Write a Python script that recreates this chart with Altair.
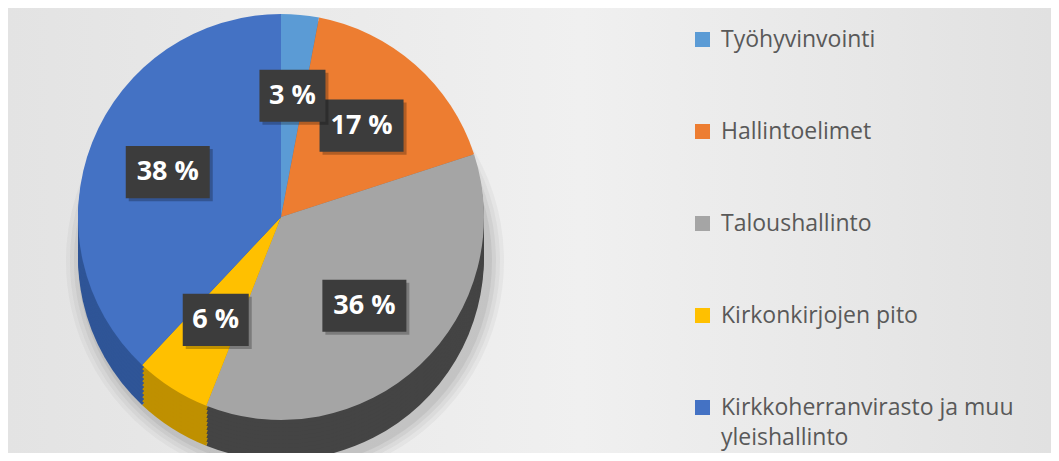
import altair as alt
import pandas as pd
import numpy as np

categories = ["Työhyvinvointi", "Hallintoelimet", "Taloushallinto",
              "Kirkonkirjojen pito", "Kirkkoherranvirasto ja muu yleishallinto"]
shares = [3, 17, 36, 6, 38]
labels = ["3 %", "17 %", "36 %", "6 %", "38 %"]
top_colors = ["#5B9BD5", "#ED7D31", "#A5A5A5", "#FFC000", "#4472C4"]
side_colors = ["#2E75B6", "#AE5A21", "#444444", "#BF9000", "#2F5597"]

W, H = 1043, 445
CX, CY, R, DEPTH = 273, 209, 203, 40
LABEL_K = 0.6

df = pd.DataFrame({"cat": categories, "share": shares, "label": labels,
                   "ord": list(range(len(categories)))})
total = df["share"].sum()
start = df["share"].cumsum() - df["share"]
mid = (start + df["share"] / 2) / total * 2 * np.pi
df["lx"] = LABEL_K * np.sin(mid)
df["ly"] = LABEL_K * np.cos(mid)
df["digits"] = df["share"].astype(str).str.len()

theta = alt.Theta("share:Q", stack=True)
order = alt.Order("ord:Q")

xs = alt.Scale(domain=[-1, 1], range=[CX - R, CX + R])
ys = alt.Scale(domain=[-1, 1], range=[CY + R, CY - R])

bg = alt.Chart(alt.Data(values=[{"a": 1}])).mark_rect(
    color=alt.Gradient(
        gradient="linear", x1=0, x2=1, y1=0, y2=0,
        stops=[alt.GradientStop(offset=0, color="#e3e3e3"),
               alt.GradientStop(offset=0.55, color="#f0f0f0"),
               alt.GradientStop(offset=1, color="#e1e1e1")])
).encode(x=alt.value(0), x2=alt.value(W), y=alt.value(0), y2=alt.value(H))

shadows = []
for extra, op in [(16, 0.05), (12, 0.06), (8, 0.08), (4, 0.10)]:
    shadows.append(
        alt.Chart(df).mark_arc(outerRadius=R + extra, color="#555555", opacity=op)
        .encode(theta=theta, order=order,
                x=alt.value(CX + 4), y=alt.value(CY + DEPTH + 4))
    )

sides = []
for d in range(DEPTH, 0, -4):
    sides.append(
        alt.Chart(df).mark_arc(outerRadius=R)
        .encode(theta=theta, order=order,
                color=alt.Color("cat:N", scale=alt.Scale(domain=categories, range=side_colors),
                                legend=None),
                x=alt.value(CX), y=alt.value(CY + d))
    )

top = alt.Chart(df).mark_arc(outerRadius=R).encode(
    theta=theta, order=order,
    color=alt.Color(
        "cat:N",
        scale=alt.Scale(domain=categories, range=top_colors),
        sort=categories,
        legend=alt.Legend(
            title=None, orient="none", legendX=683, legendY=20,
            symbolType="square", symbolSize=225, symbolStrokeWidth=0,
            labelFontSize=23, labelFont="Open Sans", labelColor="#595959",
            labelLimit=0, rowPadding=68, labelOffset=7,
            labelExpr="datum.label == 'Kirkkoherranvirasto ja muu yleishallinto' ? "
                      "['Kirkkoherranvirasto ja muu', 'yleishallinto'] : datum.label",
        ),
    ),
    x=alt.value(CX), y=alt.value(CY),
)

pos = dict(x=alt.X("lx:Q", scale=xs, axis=None), y=alt.Y("ly:Q", scale=ys, axis=None))

box_specs = [(2, "M-1,-0.62H1V0.62H-1Z", 84 ** 2), (1, "M-1,-0.79H1V0.79H-1Z", 66 ** 2)]
boxes = []
for digits, path, size in box_specs:
    boxes.append(
        alt.Chart(df).transform_filter(f"datum.digits == {digits}")
        .mark_point(shape=path, size=size, filled=True, color="#000000",
                    opacity=0.25, strokeWidth=0, xOffset=3, yOffset=3)
        .encode(**pos)
    )
    boxes.append(
        alt.Chart(df).transform_filter(f"datum.digits == {digits}")
        .mark_point(shape=path, size=size, filled=True, color="#3c3c3c",
                    opacity=1, strokeWidth=0)
        .encode(**pos)
    )

text = alt.Chart(df).mark_text(
    font="Open Sans", fontWeight="bold", fontSize=27, color="white",
    align="center", baseline="middle"
).encode(text="label:N", **pos)

chart = alt.layer(bg, *shadows, *sides, top, *boxes, text).resolve_scale(
    color="independent"
).properties(
    width=W, height=H, padding=0,
    autosize=alt.AutoSizeParams(type="none"),
).configure_view(stroke=None).configure(
    style={"guide-label": {"lineHeight": 30}}
)

chart.save("out.html", embed_options={"renderer": "svg", "actions": False})
